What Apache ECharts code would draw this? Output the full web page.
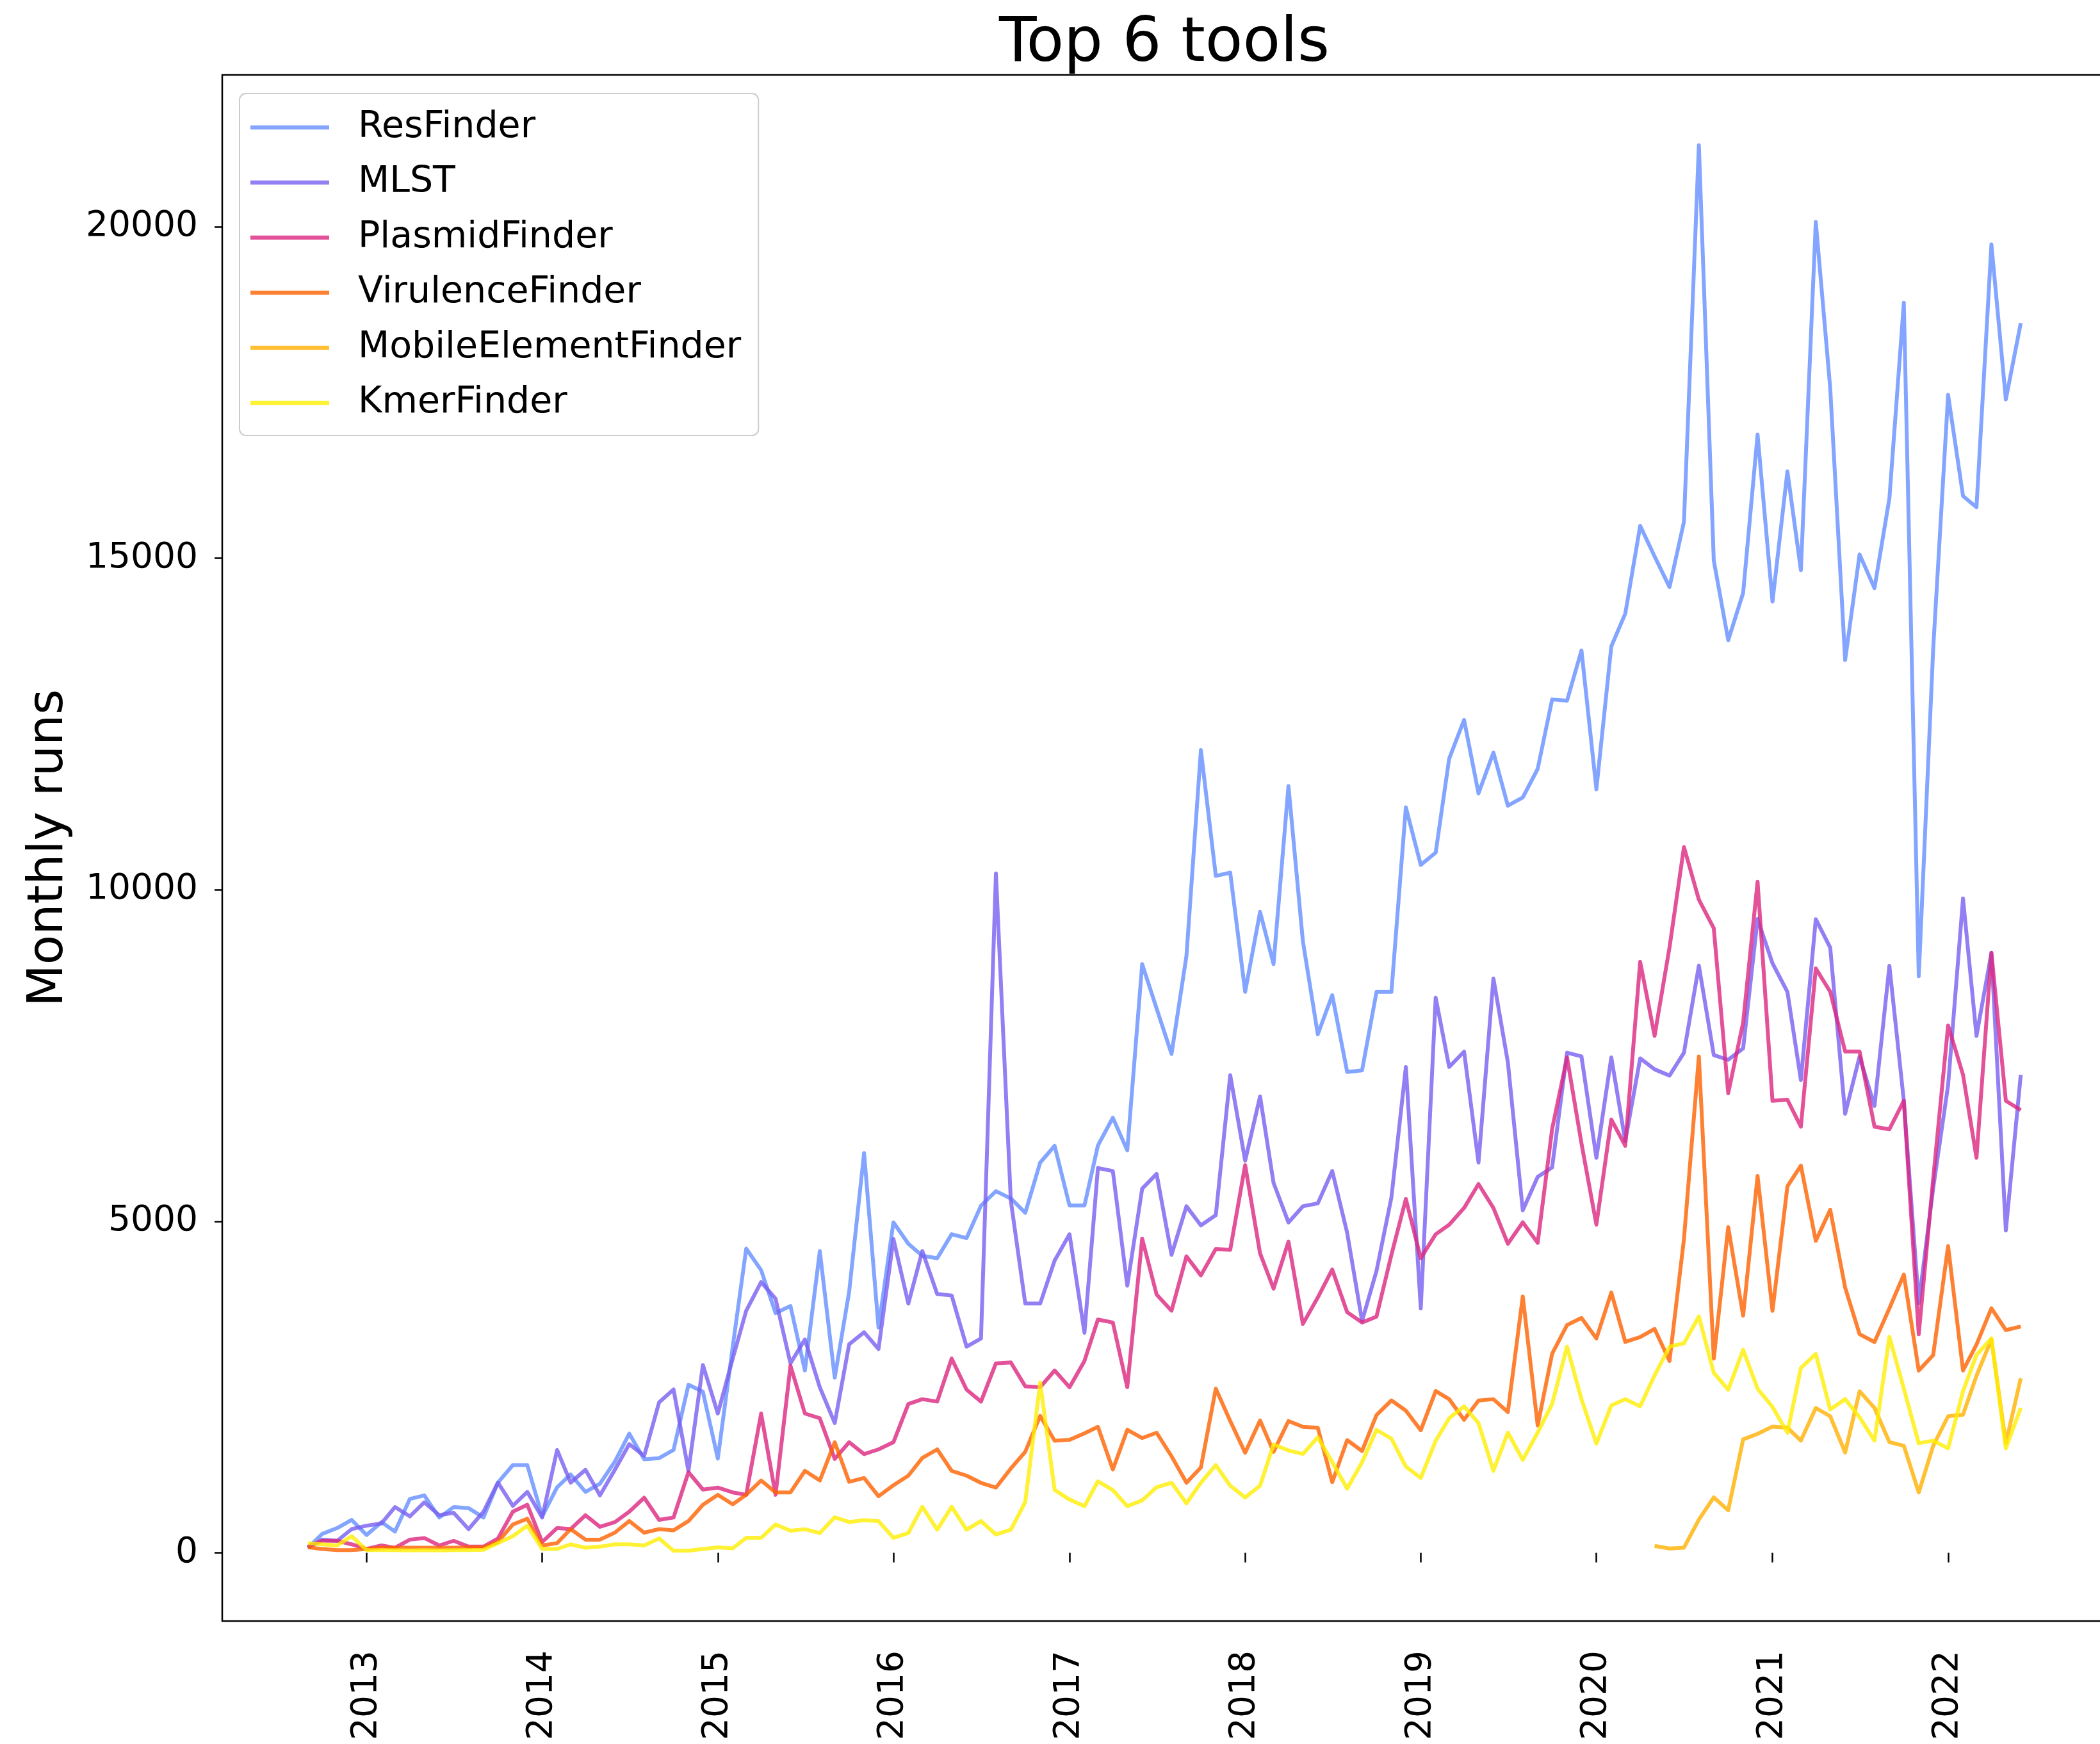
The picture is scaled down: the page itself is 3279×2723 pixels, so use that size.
<!DOCTYPE html>
<html><head><meta charset="utf-8">
<script src="https://cdn.jsdelivr.net/npm/echarts@6/dist/echarts.min.js"></script>
<style>html,body{margin:0;padding:0;background:#fff}#c{width:3279px;height:2723px}</style>
</head><body><div id="c"></div>
<script>
const months = [
'2012-09','2012-10','2012-11','2012-12',
'2013-01','2013-02','2013-03','2013-04','2013-05','2013-06','2013-07','2013-08','2013-09','2013-10','2013-11','2013-12',
'2014-01','2014-02','2014-03','2014-04','2014-05','2014-06','2014-07','2014-08','2014-09','2014-10','2014-11','2014-12',
'2015-01','2015-02','2015-03','2015-04','2015-05','2015-06','2015-07','2015-08','2015-09','2015-10','2015-11','2015-12',
'2016-01','2016-02','2016-03','2016-04','2016-05','2016-06','2016-07','2016-08','2016-09','2016-10','2016-11','2016-12',
'2017-01','2017-02','2017-03','2017-04','2017-05','2017-06','2017-07','2017-08','2017-09','2017-10','2017-11','2017-12',
'2018-01','2018-02','2018-03','2018-04','2018-05','2018-06','2018-07','2018-08','2018-09','2018-10','2018-11','2018-12',
'2019-01','2019-02','2019-03','2019-04','2019-05','2019-06','2019-07','2019-08','2019-09','2019-10','2019-11','2019-12',
'2020-01','2020-02','2020-03','2020-04','2020-05','2020-06','2020-07','2020-08','2020-09','2020-10','2020-11','2020-12',
'2021-01','2021-02','2021-03','2021-04','2021-05','2021-06','2021-07','2021-08','2021-09','2021-10','2021-11','2021-12',
'2022-01','2022-02','2022-03','2022-04','2022-05','2022-06'
];

const seriesNames = ['ResFinder','MLST','PlasmidFinder','VirulenceFinder','MobileElementFinder','KmerFinder'];

const resFinder = [
75,285,373,496,
268,461,320,812,865,531,689,672,531,1058,1322,1322,
549,988,1181,918,1041,1375,1796,1410,1427,1550,2534,2428,
1420,3109,4587,4263,3614,3722,2749,4551,2641,3938,6029,3398,
4984,4660,4479,4443,4804,4746,5236,5453,5344,5128,5885,6138,
5236,5236,6143,6562,6069,8878,8208,7523,9002,12107,10209,10258,
8459,9667,8878,11565,9223,7819,8410,7252,7276,8459,8459,11244,
10375,10560,11977,12562,11453,12069,11268,11391,11823,12870,12852,13610,
11515,13671,14164,15489,15027,14565,15551,21230,14965,13764,14477,16865,
14346,16311,14820,20073,17565,13465,15058,14549,15905,18853,8696,13634,
17464,15939,15769,19734,17396,18548
];

const mlst = [
75,198,180,356,
408,443,689,549,760,566,602,356,619,1058,707,918,
531,1550,1058,1251,865,1251,1638,1462,2270,2463,1234,2832,
2100,2929,3650,4083,3831,2857,3217,2496,1956,3145,3326,3073,
4732,3758,4551,3902,3881,3109,3232,10247,5308,3758,3758,4407,
4804,3318,5802,5758,4028,5492,5714,4494,5226,4937,5092,7203,
5913,6882,5580,4982,5226,5270,5758,4826,3496,4250,5359,7326,
3686,8373,7327,7558,5885,8661,7399,5164,5669,5813,7543,7486,
5957,7471,6210,7457,7291,7197,7543,8856,7507,7435,7608,9559,
8891,8461,7130,9556,9126,6622,7483,6739,8852,6817,3765,5500,
7052,9870,7796,9048,4861,7209
];

const plasmidFinder = [
92,180,180,127,
57,110,75,198,222,110,180,92,92,215,619,724,
162,373,356,566,391,461,619,830,496,531,1216,953,
982,910,874,2100,874,2821,2100,2028,1415,1667,1487,1559,
1667,2244,2316,2280,2929,2460,2280,2857,2871,2511,2496,2749,
2496,2893,3518,3473,2497,4738,3895,3651,4471,4183,4582,4569,
5847,4516,3984,4693,3451,3850,4272,3629,3473,3562,4494,5336,
4443,4804,4948,5200,5561,5200,4660,4984,4674,6390,7471,6174,
4948,6534,6138,8913,7796,9130,10644,9851,9418,6931,8000,10120,
6817,6833,6426,8813,8461,7561,7561,6426,6387,6817,3296,5643,
7952,7209,5956,9048,6817,6676
];

const virulenceFinder = [
82,57,40,40,
57,75,75,75,75,75,75,82,82,162,426,514,
110,145,356,198,198,303,478,303,356,338,478,724,
874,730,874,1090,910,910,1235,1090,1667,1069,1127,852,
1018,1163,1430,1559,1235,1163,1054,982,1271,1523,2064,1689,
1703,1801,1899,1255,1854,1730,1810,1455,1056,1286,2475,1987,
1508,1996,1522,1987,1899,1885,1065,1699,1535,2076,2298,2143,
1848,2439,2316,2006,2295,2316,2122,3866,1920,3001,3434,3542,
3232,3924,3181,3254,3376,2893,4732,7486,2929,4912,3575,5683,
3648,5526,5839,4704,5174,4000,3296,3178,3687,4196,2748,2982,
4626,2748,3139,3687,3358,3413
];

// MobileElementFinder only exists from this month on
const mobileElementFinderStart = '2020-05';
const mobileElementFinder = [
103,64,77,500,835,640,1710,1793,
1903,1887,1692,2184,2059,1511,2435,2184,1668,1613,909,1613,
2059,2083,2670,3217,1652,2631
];

const kmerFinder = [
145,127,110,250,
40,40,40,35,40,35,40,40,45,145,250,408,
57,57,127,75,92,127,127,110,215,30,30,57,
81,67,225,225,427,333,355,297,535,463,492,478,
225,297,694,348,694,348,478,276,348,766,2568,947,
802,701,1078,945,701,790,989,1056,745,1056,1322,1011,
834,1011,1632,1544,1490,1743,1366,967,1366,1854,1721,1300,
1127,1689,2028,2208,1956,1235,1812,1401,1812,2244,3109,2316,
1646,2222,2316,2208,2677,3109,3160,3564,2713,2460,3061,2474,
2200,1809,2787,2998,2161,2318,2044,1691,3257,2474,1652,1691,
1574,2435,2983,3233,1574,2184
];

const yearTicks = [2013,2014,2015,2016,2017,2018,2019,2020,2021,2022];
const yTicks = [0,5000,10000,15000,20000];

// colours drawn at 80% opacity, as in the original
const colors = ['rgba(100,143,255,0.8)','rgba(120,94,240,0.8)','rgba(220,38,127,0.8)','rgba(254,97,0,0.8)','rgba(255,176,0,0.8)','rgba(255,238,0,0.8)'];

function monthTime(m){ const p = m.split('-').map(Number); return Date.UTC(p[0], p[1]-1, 1); }
const xs = months.map(monthTime);
function pairs(arr, startIdx){ return arr.map((v,i)=>[xs[startIdx+i], v]); }
const mefIdx = months.indexOf(mobileElementFinderStart);

const allSeries = [
  pairs(resFinder,0), pairs(mlst,0), pairs(plasmidFinder,0),
  pairs(virulenceFinder,0), pairs(mobileElementFinder,mefIdx), pairs(kmerFinder,0)
];

// matplotlib-like 5% auto margins
const t0 = xs[0], t1 = xs[xs.length-1], tspan = t1 - t0;
const allVals = [].concat(resFinder, mlst, plasmidFinder, virulenceFinder, mobileElementFinder, kmerFinder);
const vMin = Math.min.apply(null, allVals), vMax = Math.max.apply(null, allVals), vr = vMax - vMin;

const yearTickTimes = yearTicks.map(y => Date.UTC(y,0,1));
const FONT = 'DejaVu Sans';

const chart = echarts.init(document.getElementById('c'), null, {renderer:'canvas'});
chart.setOption({
  animation: false,
  backgroundColor: '#ffffff',
  title: {
    text: 'Top 6 tools', left: 1813, top: 17, textAlign: 'center',
    textStyle: {fontSize: 96, fontWeight: 'normal', color: '#000', fontFamily: FONT}
  },
  legend: {
    orient: 'vertical', left: 374, top: 146, icon: 'rect',
    itemWidth: 123, itemHeight: 6.5, itemGap: 26,
    padding: [23, 27, 21, 17],
    backgroundColor: 'rgba(255,255,255,0.8)', borderColor: '#cccccc', borderWidth: 2, borderRadius: 10,
    textStyle: {fontSize: 57, lineHeight: 60, color: '#000', fontFamily: FONT, padding: [0,0,0,40]},
    data: seriesNames
  },
  grid: {
    left: 347, right: -10, top: 117, bottom: 192,
    show: true, borderColor: '#000', borderWidth: 2.5,
    containLabel: false, outerBoundsMode: 'none'
  },
  xAxis: {
    type: 'value', min: t0 - 0.05*tspan, max: t1 + 0.05*tspan,
    axisLine: {show: false}, splitLine: {show: false},
    axisTick: {show: true, customValues: yearTickTimes, length: 15, lineStyle: {color: '#000', width: 2.5}},
    axisLabel: {
      customValues: yearTickTimes, rotate: 90, margin: 46, fontSize: 55, color: '#000', fontFamily: FONT,
      formatter: function(v){ return String(new Date(v).getUTCFullYear()); }
    }
  },
  yAxis: {
    type: 'value', min: vMin - 0.05*vr, max: vMax + 0.05*vr,
    axisLine: {show: false}, splitLine: {show: false},
    axisTick: {show: true, customValues: yTicks, length: 12, lineStyle: {color: '#000', width: 2.5}},
    axisLabel: {customValues: yTicks, margin: 38, fontSize: 55, color: '#000', fontFamily: FONT,
      formatter: function(v){ return String(v); }},
    name: 'Monthly runs', nameLocation: 'middle', nameGap: 232,
    nameTextStyle: {fontSize: 76, color: '#000', fontFamily: FONT}
  },
  series: seriesNames.map((n,i) => ({
    name: n, type: 'line', data: allSeries[i], color: colors[i],
    showSymbol: false, symbol: 'none', lineStyle: {width: 6, color: colors[i], join: 'round'},
    emphasis: {disabled: true}, z: 2 + i
  }))
});
</script>
</body></html>
